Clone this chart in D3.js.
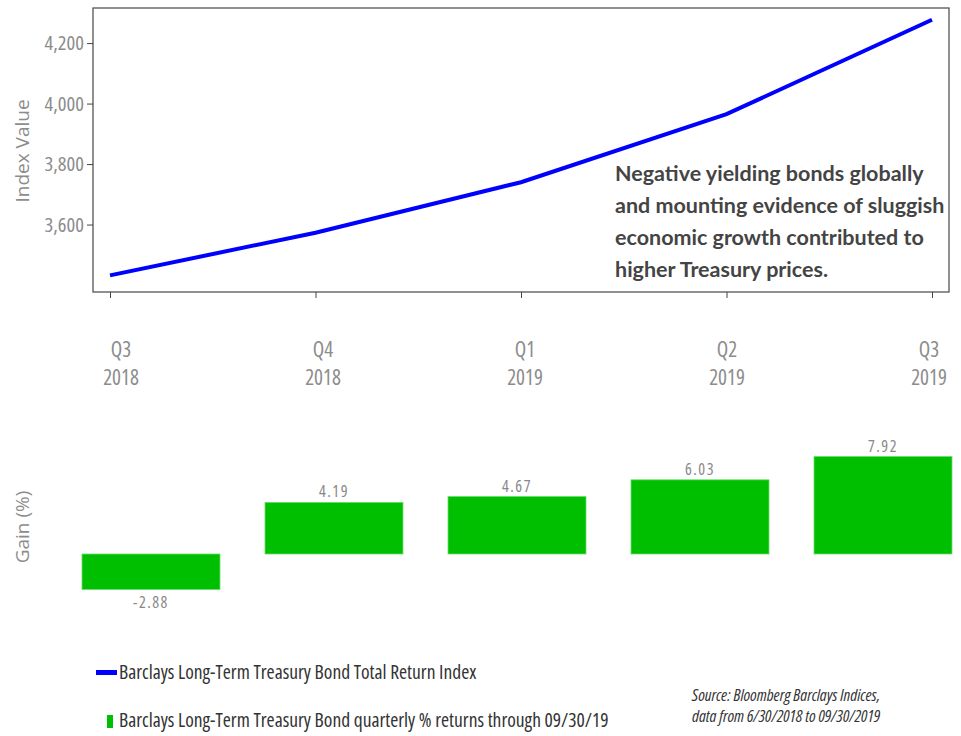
<!DOCTYPE html>
<html>
<head>
<meta charset="utf-8">
<script src="https://cdn.jsdelivr.net/npm/d3@7"></script>
<style>
  body { margin: 0; background: #fff; }
  svg { display: block; }
  .narrow { font-family: "Open Sans", "DejaVu Sans", sans-serif; font-stretch: condensed; }
  .axis-title { font-family: "Open Sans", "DejaVu Sans", sans-serif; fill: #8c8c8c; font-size: 19px; }
  .axis text { fill: #8c8c8c; font-size: 20.5px; }
  .axis line, .axis path { stroke: #444; }
</style>
</head>
<body>
<svg id="chart"></svg>
<script>
// data
const quarters = ["Q3 2018", "Q4 2018", "Q1 2019", "Q2 2019", "Q3 2019"];
const indexValues = [3432, 3573, 3740, 3965, 4277];
const quarterlyReturns = [-2.88, 4.19, 4.67, 6.03, 7.92];
const indexTicks = [3600, 3800, 4000, 4200];
const noteLines = [
    "Negative yielding bonds globally",
    "and mounting evidence of sluggish",
    "economic growth contributed to",
    "higher Treasury prices."
];
const legendLabels = [
    "Barclays Long-Term Treasury Bond Total Return Index",
    "Barclays Long-Term Treasury Bond quarterly % returns through 09/30/19"
];
const sourceLines = ["Source: Bloomberg Barclays Indices,", "data from 6/30/2018 to 09/30/2019"];

const config = {
    width: 961,
    height: 736,
    box: { left: 93, right: 949, top: 8, bottom: 292 },
    lineColor: "#0000ff",
    barColor: "#00bf00"
};

const svg = d3.select("#chart")
    .attr("width", config.width)
    .attr("height", config.height);

const box = config.box;

// ---------- top panel: index line ----------
const xScale = d3.scalePoint()
    .domain(quarters)
    .range([110, 932]);

const yScale = d3.scaleLinear()
    .domain([3377, 4316])
    .range([box.bottom, box.top]);

// frame
svg.append("rect")
    .attr("x", box.left)
    .attr("y", box.top)
    .attr("width", box.right - box.left)
    .attr("height", box.bottom - box.top)
    .attr("fill", "none")
    .attr("stroke", "#555")
    .attr("stroke-width", 1.3);

svg.append("g")
    .attr("class", "axis narrow")
    .attr("transform", `translate(${box.left},0)`)
    .call(d3.axisLeft(yScale)
        .tickValues(indexTicks)
        .tickSize(6)
        .tickPadding(3)
        .tickFormat(d3.format(",")))
    .call(g => g.select(".domain").remove());

svg.append("g")
    .attr("class", "axis")
    .attr("transform", `translate(0,${box.bottom})`)
    .call(d3.axisBottom(xScale).tickSize(6).tickFormat(""))
    .call(g => g.select(".domain").remove());

// quarter labels sit on their own evenly spaced positions
const labelScale = d3.scalePoint()
    .domain(quarters)
    .range([121, 929]);

const qLabels = svg.append("g")
    .attr("class", "narrow")
    .selectAll("text")
    .data(quarters)
    .join("text")
    .attr("text-anchor", "middle")
    .attr("fill", "#8c8c8c")
    .style("font-size", "21px");

qLabels.append("tspan")
    .attr("x", d => labelScale(d))
    .attr("y", 357)
    .text(d => d.split(" ")[0]);
qLabels.append("tspan")
    .attr("x", d => labelScale(d))
    .attr("y", 385)
    .text(d => d.split(" ")[1]);

svg.append("text")
    .attr("class", "axis-title")
    .attr("transform", "translate(29,151) rotate(-90)")
    .attr("text-anchor", "middle")
    .text("Index Value");

const line = d3.line()
    .x((d, i) => xScale(quarters[i]))
    .y(d => yScale(d));

svg.append("path")
    .datum(indexValues)
    .attr("fill", "none")
    .attr("stroke", config.lineColor)
    .attr("stroke-width", 4)
    .attr("d", line);

// annotation
svg.append("g")
    .selectAll("text")
    .data(noteLines)
    .join("text")
    .attr("x", 615)
    .attr("y", (d, i) => 181 + i * 32)
    .attr("fill", "#444")
    .style("font-family", "Lato, 'Open Sans', sans-serif")
    .style("font-size", "21.5px")
    .style("font-weight", "bold")
    .text(d => d);

// ---------- bottom panel: quarterly returns ----------
const barX = d3.scaleBand()
    .domain(quarters)
    .range([82, 952])
    .paddingInner(0.246)
    .paddingOuter(0);

const barY = d3.scaleLinear()
    .domain([-4, 9])
    .range([554 + 4 * 12.3, 554 - 9 * 12.3]);

svg.append("g")
    .selectAll("rect")
    .data(quarterlyReturns)
    .join("rect")
    .attr("x", (d, i) => barX(quarters[i]))
    .attr("y", d => barY(Math.max(0, d)))
    .attr("width", barX.bandwidth())
    .attr("height", d => Math.abs(barY(d) - barY(0)))
    .attr("fill", config.barColor)
    .attr("stroke", "#66dd66")
    .attr("stroke-width", 0.8);

svg.append("g")
    .attr("class", "narrow")
    .selectAll("text")
    .data(quarterlyReturns)
    .join("text")
    .attr("x", (d, i) => barX(quarters[i]) + barX.bandwidth() / 2)
    .attr("y", d => d >= 0 ? barY(d) - 5 : barY(d) + 19)
    .attr("text-anchor", "middle")
    .attr("fill", "#888")
    .style("font-size", "16px")
    .style("letter-spacing", "1.5px")
    .text(d => d.toFixed(2));

svg.append("text")
    .attr("class", "axis-title")
    .attr("transform", "translate(29,527) rotate(-90)")
    .attr("text-anchor", "middle")
    .text("Gain (%)");

// ---------- legend + source ----------
const legend = svg.append("g").attr("class", "narrow");

legend.append("rect")
    .attr("x", 96).attr("y", 670)
    .attr("width", 21).attr("height", 5)
    .attr("fill", config.lineColor);
legend.append("rect")
    .attr("x", 107).attr("y", 715)
    .attr("width", 6).attr("height", 13)
    .attr("fill", config.barColor);

legend.selectAll(".legend-label")
    .data(legendLabels)
    .join("text")
    .attr("class", "legend-label")
    .attr("x", 119)
    .attr("y", (d, i) => 679 + i * 48)
    .attr("fill", "#333")
    .style("font-size", "19.5px")
    .text(d => d);

legend.selectAll(".source")
    .data(sourceLines)
    .join("text")
    .attr("class", "source")
    .attr("x", 692)
    .attr("y", (d, i) => 701 + i * 21)
    .attr("fill", "#333")
    .style("font-size", "16.5px")
    .style("font-style", "italic")
    .text(d => d);
</script>
</body>
</html>
